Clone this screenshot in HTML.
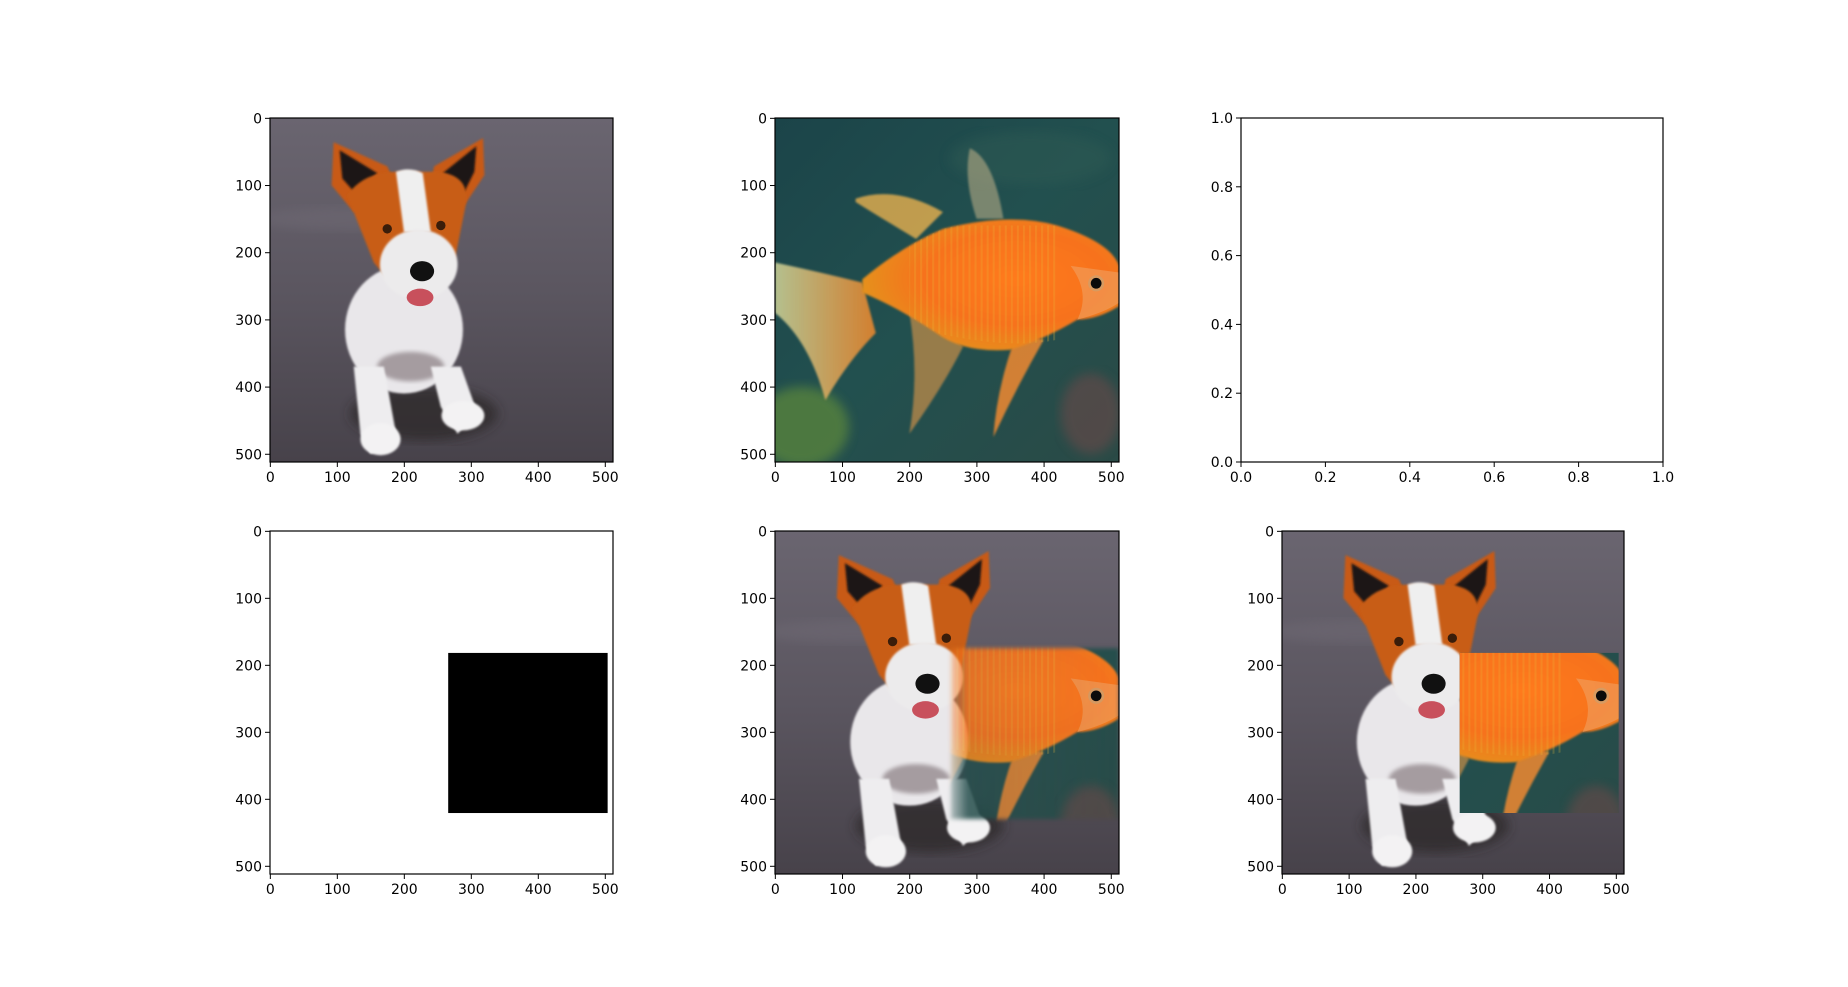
<!DOCTYPE html>
<html><head><meta charset="utf-8"><style>
html,body{margin:0;padding:0;background:#fff;}
svg text{font-family:"DejaVu Sans","Liberation Sans",sans-serif;font-size:14px;fill:#000;}
</style></head><body>
<svg id="fig" width="1848" height="982" viewBox="0 0 1848 982" xmlns="http://www.w3.org/2000/svg">
<defs>
  <filter id="soft" x="-10%" y="-10%" width="120%" height="120%"><feGaussianBlur stdDeviation="3"/></filter>
  <filter id="soft2" x="-10%" y="-10%" width="120%" height="120%"><feGaussianBlur stdDeviation="8"/></filter>
  <filter id="fur" x="-10%" y="-10%" width="120%" height="120%"><feGaussianBlur stdDeviation="1.5"/></filter>
  <linearGradient id="floor" x1="0" y1="0" x2="0" y2="1">
    <stop offset="0" stop-color="#6a6570"/><stop offset="0.5" stop-color="#5b5660"/><stop offset="1" stop-color="#47424a"/>
  </linearGradient>
  <linearGradient id="water" x1="0" y1="0" x2="1" y2="1">
    <stop offset="0" stop-color="#1b4449"/><stop offset="0.5" stop-color="#22504f"/><stop offset="1" stop-color="#2a4a46"/>
  </linearGradient>
  <radialGradient id="fishbody" cx="0.6" cy="0.45" r="0.6">
    <stop offset="0" stop-color="#ff7a1a"/><stop offset="0.6" stop-color="#f7721c"/><stop offset="1" stop-color="#e5901f"/>
  </radialGradient>
  <linearGradient id="tail" x1="0" y1="0" x2="1" y2="0">
    <stop offset="0" stop-color="#cfd59a"/><stop offset="1" stop-color="#f2882a"/>
  </linearGradient>
  <pattern id="scales" width="9" height="512" patternUnits="userSpaceOnUse">
    <rect x="0" y="0" width="3" height="512" fill="#e8b63a" opacity="0.35"/>
  </pattern>

  <g id="dog">
    <rect x="0" y="0" width="512" height="512" fill="url(#floor)"/>
    <ellipse cx="120" cy="150" rx="140" ry="18" fill="#6f6a74" opacity="0.5" filter="url(#soft2)"/>
    <ellipse cx="230" cy="440" rx="110" ry="40" fill="#2a2628" opacity="0.7" filter="url(#soft2)"/>
    <!-- body -->
    <ellipse cx="200" cy="315" rx="88" ry="95" fill="#e9e7ea" filter="url(#fur)"/>
    <ellipse cx="210" cy="370" rx="50" ry="22" fill="#a59ca0" filter="url(#soft)"/>
    <!-- legs -->
    <path d="M125 370 L170 370 L190 480 L150 500 L135 470 Z" fill="#eeedef" filter="url(#fur)"/>
    <ellipse cx="165" cy="478" rx="30" ry="24" fill="#f3f2f3" filter="url(#fur)"/>
    <path d="M240 370 L285 370 L310 440 L280 470 L255 430 Z" fill="#eeedef" filter="url(#fur)"/>
    <ellipse cx="288" cy="443" rx="32" ry="22" fill="#f3f2f3" filter="url(#fur)"/>
    <!-- ears -->
    <path d="M95 36 L175 72 L190 105 L125 140 L92 100 Z" fill="#c85a16" filter="url(#fur)"/>
    <path d="M104 48 L160 82 L130 115 L108 90 Z" fill="#1c1818" filter="url(#fur)"/>
    <path d="M318 30 L245 72 L238 105 L290 130 L320 85 Z" fill="#c85a16" filter="url(#fur)"/>
    <path d="M308 42 L258 82 L290 110 L305 80 Z" fill="#1c1818" filter="url(#fur)"/>
    <!-- head -->
    <path d="M115 115 Q140 80 190 80 L250 80 Q300 85 292 130 L272 230 Q230 255 180 245 L155 215 Z" fill="#c85d18" filter="url(#fur)"/>
    <path d="M188 80 Q208 72 228 82 L240 170 L200 170 Z" fill="#efefef" filter="url(#fur)"/>
    <ellipse cx="222" cy="218" rx="58" ry="52" fill="#ecebec" filter="url(#fur)"/>
    <circle cx="175" cy="165" r="7" fill="#3a1d0a"/>
    <circle cx="255" cy="160" r="7" fill="#3a1d0a"/>
    <ellipse cx="227" cy="228" rx="18" ry="15" fill="#111"/>
    <ellipse cx="224" cy="267" rx="20" ry="13" fill="#c8505c"/>
  </g>

  <g id="fish">
    <rect x="0" y="0" width="512" height="512" fill="url(#water)"/>
    <ellipse cx="40" cy="460" rx="70" ry="60" fill="#5f8a3a" opacity="0.7" filter="url(#soft2)"/>
    <ellipse cx="470" cy="440" rx="45" ry="60" fill="#6b4a4a" opacity="0.6" filter="url(#soft2)"/>
    <ellipse cx="380" cy="60" rx="120" ry="40" fill="#2f5a52" opacity="0.5" filter="url(#soft2)"/>
    <path d="M0 215 Q70 230 130 245 L150 320 Q110 360 75 420 Q50 330 0 290 Z" fill="url(#tail)" opacity="0.85" filter="url(#fur)"/>
    <path d="M120 120 Q180 100 250 140 L210 180 Q160 150 120 125 Z" fill="#e8b150" opacity="0.8" filter="url(#fur)"/>
    <path d="M290 45 Q325 60 340 150 L300 150 Q280 90 290 45 Z" fill="#c4b48a" opacity="0.55" filter="url(#fur)"/>
    <path d="M200 290 Q250 310 280 340 Q250 400 200 470 Q215 380 200 290 Z" fill="#e49a4a" opacity="0.6" filter="url(#fur)"/>
    <path d="M360 320 L400 330 Q360 400 325 475 Q330 400 360 320 Z" fill="#f08a30" opacity="0.85" filter="url(#fur)"/>
    <path d="M130 240 Q190 190 250 165 Q350 140 420 160 Q500 185 512 220 L512 280 Q480 300 450 300 Q400 330 350 345 Q280 350 240 320 Q180 280 130 260 Z" fill="url(#fishbody)" filter="url(#fur)"/>
    <path d="M200 160 L420 160 L420 345 L200 345 Z" fill="url(#scales)" opacity="0.7" clip-path="url(#bodyclip)"/>
    <path d="M440 220 Q470 260 450 300 Q490 290 512 275 L512 230 Z" fill="#f0a060" opacity="0.6"/>
    <circle cx="478" cy="246" r="12" fill="#d89a60"/>
    <circle cx="478" cy="246" r="8" fill="#0a0a0a"/>
  </g>
  <clipPath id="bodyclip"><path d="M130 240 Q190 190 250 165 Q350 140 420 160 L420 330 Q350 345 240 320 Q180 280 130 260 Z"/></clipPath>
  <linearGradient id="blendGrad" x1="0" y1="0" x2="1" y2="0">
    <stop offset="0" stop-color="#fff" stop-opacity="0.3"/><stop offset="0.1" stop-color="#fff" stop-opacity="0.85"/><stop offset="1" stop-color="#fff" stop-opacity="1"/>
  </linearGradient>
  <mask id="blendMask" maskUnits="userSpaceOnUse" x="0" y="0" width="512" height="512">
    <rect x="262" y="175" width="250" height="255" fill="url(#blendGrad)" filter="url(#soft)"/>
  </mask>
</defs>
<g id="root"></g>
<script>
const NS='http://www.w3.org/2000/svg';
const root=document.getElementById('root');
const imgTicks=[0,100,200,300,400,500];
const unitTicks=[0,0.2,0.4,0.6,0.8,1.0];
const imgSize=[512];
const maskRect=[266,182,504,421];
const panelNames=['dog-image','fish-image','empty-axes','mask-image','blended-image','composite-image'];
const panelKinds=['dog','fish','empty','mask','blend','paste'];
const panelBoxes=[[270,118,343,344],[775,118,344,344],[1241,118,422,344],[270,531,343,343],[775,531,344,343],[1282,531,342,343]];

function el(tag,attrs,parent){const e=document.createElementNS(NS,tag);for(const k in attrs)e.setAttribute(k,attrs[k]);(parent||root).appendChild(e);return e;}

panelKinds.forEach((kind,i)=>{
  const [x0,y0,w,h]=panelBoxes[i];
  const g=el('g',{});
  
  
  const N=imgSize[0];
  let sx,sy;
  if(kind==='empty'){
    sx=v=>x0+v*w; sy=v=>y0+h-v*h;
  } else {
    sx=v=>x0+(v+0.5)/N*w; sy=v=>y0+(v+0.5)/N*h;
    const cid='clip'+i;
    const cp=el('clipPath',{id:cid},g);el('rect',{x:x0,y:y0,width:w,height:h},cp);
    const ig=el('g',{'clip-path':'url(#'+cid+')'},g);
    const inner=el('g',{transform:`translate(${x0},${y0}) scale(${w/N},${h/N})`},ig);
    if(kind==='dog'||kind==='blend'||kind==='paste'){el('use',{href:'#dog'},inner);}
    if(kind==='fish'){el('use',{href:'#fish'},inner);}
    if(kind==='mask'){
      el('rect',{x:0,y:0,width:N,height:N,fill:'#fff'},inner);
      const r=el('rect',{x:maskRect[0],y:maskRect[1],width:maskRect[2]-maskRect[0],height:maskRect[3]-maskRect[1],fill:'#000'},inner);
      
      
    }
    if(kind==='blend'){el('use',{href:'#fish',mask:'url(#blendMask)'},inner);}
    if(kind==='paste'){
      const pc='pclip'+i;
      const cp2=el('clipPath',{id:pc},inner);
      el('rect',{x:maskRect[0],y:maskRect[1],width:maskRect[2]-maskRect[0],height:maskRect[3]-maskRect[1]},cp2);
      const p=el('use',{href:'#fish','clip-path':'url(#'+pc+')'},inner);
      
      
    }
  }
  el('rect',{x:x0,y:y0,width:w,height:h,fill:'none',stroke:'#000','stroke-width':1.2},g);
  const ticks=kind==='empty'?unitTicks:imgTicks;
  ticks.forEach(t=>{
    const lab=kind==='empty'?t.toFixed(1):String(t);
    const px=sx(t);
    el('line',{x1:px,y1:y0+h,x2:px,y2:y0+h+5,stroke:'#000','stroke-width':1},g);
    const tx=el('text',{x:px,y:y0+h+20,'text-anchor':'middle'},g);tx.textContent=lab;
    
    
    const py=sy(t);
    el('line',{x1:x0-5,y1:py,x2:x0,y2:py,stroke:'#000','stroke-width':1},g);
    const ty=el('text',{x:x0-8,y:py+5,'text-anchor':'end'},g);ty.textContent=lab;
    
    
  });
});
</script>
</svg>
</body></html>
